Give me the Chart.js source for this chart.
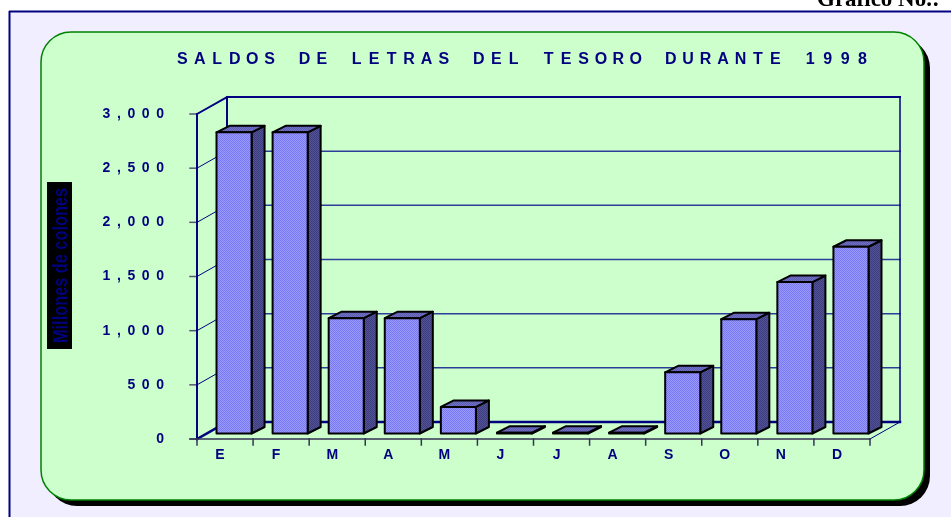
<!DOCTYPE html>
<html>
<head>
<meta charset="utf-8">
<script src="https://cdn.jsdelivr.net/npm/chart.js@4.4.1/dist/chart.umd.min.js"></script>
<style>
  html, body { margin: 0; padding: 0; background: #fff; overflow: hidden; }
  canvas { display: block; }
</style>
</head>
<body>
<canvas id="grafico" width="951" height="517"></canvas>
<script>
// ─── Datos del gráfico ─────────────────────────────────────────────
const meses  = ['E', 'F', 'M', 'A', 'M', 'J', 'J', 'A', 'S', 'O', 'N', 'D'];
const saldos = [2780, 2780, 1065, 1065, 245, 8, 8, 8, 565, 1055, 1398, 1724]; // millones de colones
const yTicks = [0, 500, 1000, 1500, 2000, 2500, 3000];
const titulo = 'SALDOS DE LETRAS DEL TESORO DURANTE 1998';
const tituloEje = 'Millones de colones';
const encabezado = 'Gráfico No.:';

// ─── Colores y geometría 3D ────────────────────────────────────────
const navy = '#000080';
const wallDx = 30, wallDy = -17;   // profundidad del "cuarto"
const barOx = 9, barOy = -5.5;     // la barra va metida en la profundidad
const barDx = 13, barDy = -6.5;    // grosor de la barra

function linea(ctx, x1, y1, x2, y2, color, w) {
  ctx.beginPath();
  ctx.moveTo(x1, y1);
  ctx.lineTo(x2, y2);
  ctx.strokeStyle = color;
  ctx.lineWidth = w;
  ctx.stroke();
}

function rectRedondo(ctx, x, y, w, h, r) {
  ctx.beginPath();
  ctx.moveTo(x + r, y);
  ctx.lineTo(x + w - r, y);
  ctx.arcTo(x + w, y, x + w, y + r, r);
  ctx.lineTo(x + w, y + h - r);
  ctx.arcTo(x + w, y + h, x + w - r, y + h, r);
  ctx.lineTo(x + r, y + h);
  ctx.arcTo(x, y + h, x, y + h - r, r);
  ctx.lineTo(x, y + r);
  ctx.arcTo(x, y, x + r, y, r);
  ctx.closePath();
}

function patron(ctx, c1, c2) {
  const p = document.createElement('canvas');
  p.width = 2; p.height = 2;
  const g = p.getContext('2d');
  g.fillStyle = c1; g.fillRect(0, 0, 2, 2);
  g.fillStyle = c2; g.fillRect(0, 0, 1, 1); g.fillRect(1, 1, 1, 1);
  return ctx.createPattern(p, 'repeat');
}

// texto con espaciado entre letras, alineado a la derecha en xDer
function textoEspaciado(ctx, txt, xDer, y, esp) {
  const chars = [...txt];
  const anchos = chars.map(c => ctx.measureText(c).width);
  const total = anchos.reduce((a, b) => a + b, 0) + esp * (chars.length - 1);
  let x = xDer - total;
  ctx.textAlign = 'left';
  chars.forEach((c, i) => { ctx.fillText(c, x, y); x += anchos[i] + esp; });
}

// ─── Fondo, marco, título ──────────────────────────────────────────
const fondoPlugin = {
  id: 'fondo',
  beforeDraw(chart) {
    const ctx = chart.ctx;
    ctx.save();
    ctx.fillStyle = '#ffffff';
    ctx.fillRect(0, 0, chart.width, chart.height);

    // recuadro lila exterior
    ctx.fillStyle = '#f1eeff';
    ctx.fillRect(9, 11, chart.width - 9, chart.height - 11);
    linea(ctx, 9, 11.5, chart.width, 11.5, navy, 2);
    linea(ctx, 9.5, 11, 9.5, chart.height, navy, 2);

    // encabezado cortado arriba
    ctx.fillStyle = '#000';
    ctx.font = 'bold 23px "Liberation Serif", "Times New Roman", serif';
    ctx.textAlign = 'left';
    ctx.textBaseline = 'alphabetic';
    ctx.fillText(encabezado, 817, 6);

    // panel verde con sombra
    rectRedondo(ctx, 47, 38, 883, 468, 30);
    ctx.fillStyle = '#000';
    ctx.fill();
    rectRedondo(ctx, 41, 32, 883, 468, 30);
    ctx.fillStyle = '#ccffcc';
    ctx.fill();
    ctx.strokeStyle = '#008000';
    ctx.lineWidth = 1.5;
    ctx.stroke();

    // título con letras espaciadas
    ctx.fillStyle = navy;
    ctx.font = 'bold 16px "Liberation Sans", Arial, sans-serif';
    ctx.textBaseline = 'middle';
    ctx.textAlign = 'center';
    const chars = [...titulo];
    const w0 = ctx.measureText(chars[0]).width;
    const wN = ctx.measureText(chars[chars.length - 1]).width;
    const c0 = 177 + w0 / 2, cN = 867 - wN / 2;
    const paso = (cN - c0) / (chars.length - 1);
    chars.forEach((c, i) => ctx.fillText(c, c0 + i * paso, 60));

    // título del eje Y
    ctx.fillStyle = '#000';
    ctx.fillRect(47, 182, 25, 167);
    ctx.translate(60, 265.5);
    ctx.rotate(-Math.PI / 2);
    ctx.fillStyle = navy;
    ctx.font = 'bold 21px "Liberation Sans Narrow", "Arial Narrow", "Liberation Sans", sans-serif';
    ctx.textAlign = 'center';
    ctx.textBaseline = 'middle';
    ctx.fillText(tituloEje, 0, 1, 155);
    ctx.restore();
  }
};

// ─── Paredes, piso, ejes ───────────────────────────────────────────
const paredesPlugin = {
  id: 'paredes',
  beforeDatasetsDraw(chart) {
    const ctx = chart.ctx;
    const { left, right, top, bottom } = chart.chartArea;
    const ys = chart.scales.y;
    const xs = chart.scales.x;
    ctx.save();
    ctx.lineCap = 'square';

    // líneas de división en la pared trasera y la pared izquierda
    yTicks.forEach(t => {
      const y = ys.getPixelForValue(t);
      if (t > 0 && t < 3000) {
        linea(ctx, left + wallDx, y + wallDy, right + wallDx, y + wallDy, '#2c3c98', 1.5);
        linea(ctx, left, y, left + wallDx, y + wallDy, navy, 1);
      }
      // marcas del eje
      linea(ctx, left - 7, y, left, y, '#555577', 1.5);
    });

    // marco de la pared trasera
    linea(ctx, left + wallDx, top + wallDy, right + wallDx, top + wallDy, navy, 2);
    linea(ctx, left + wallDx, top + wallDy, left + wallDx, bottom + wallDy, navy, 2);
    linea(ctx, right + wallDx, top + wallDy, right + wallDx, bottom + wallDy, navy, 1.5);
    linea(ctx, left, top, left + wallDx, top + wallDy, navy, 2);
    linea(ctx, left, top, left, bottom, navy, 2);

    // piso
    linea(ctx, left + wallDx, bottom + wallDy, right + wallDx, bottom + wallDy, navy, 2.5);
    linea(ctx, left, bottom, left + wallDx, bottom + wallDy, navy, 2.5);
    linea(ctx, right, bottom, right + wallDx, bottom + wallDy, navy, 1);
    linea(ctx, left - 7, bottom, right, bottom, '#333355', 1.5);

    // marcas de categorías
    const anchoCat = (right - left) / meses.length;
    for (let i = 0; i <= meses.length; i++) {
      const x = left + i * anchoCat;
      linea(ctx, x, bottom, x, bottom + 6, '#333355', 1.5);
    }

    // etiquetas del eje Y
    ctx.fillStyle = navy;
    ctx.font = 'bold 14px "Liberation Sans", Arial, sans-serif';
    ctx.textBaseline = 'middle';
    yTicks.forEach(t => {
      const y = ys.getPixelForValue(t);
      textoEspaciado(ctx, t.toLocaleString('en-US'), 164, y, 6.6);
    });

    // etiquetas del eje X
    ctx.textAlign = 'center';
    meses.forEach((m, i) => {
      ctx.fillText(m, xs.getPixelForValue(i) - 5, 455);
    });
    ctx.restore();
  }
};

// ─── Barras en 3D ──────────────────────────────────────────────────
const barras3dPlugin = {
  id: 'barras3d',
  afterDatasetsDraw(chart) {
    const ctx = chart.ctx;
    const frente = patron(ctx, '#9a9aff', '#7878f0');
    const lado = patron(ctx, '#525299', '#3e3e7e');
    const tapa = patron(ctx, '#7070c6', '#5c5cae');
    const meta = chart.getDatasetMeta(0);
    ctx.save();
    ctx.lineWidth = 2;
    ctx.lineJoin = 'round';
    ctx.strokeStyle = '#000';
    meta.data.forEach(el => {
      const p = el.getProps(['x', 'y', 'base', 'width'], true);
      const L = p.x - p.width / 2 + barOx;
      const R = p.x + p.width / 2 + barOx;
      const T = p.y + barOy;
      const B = p.base + barOy;

      // cara lateral
      ctx.beginPath();
      ctx.moveTo(R, B);
      ctx.lineTo(R + barDx, B + barDy);
      ctx.lineTo(R + barDx, T + barDy);
      ctx.lineTo(R, T);
      ctx.closePath();
      ctx.fillStyle = lado;
      ctx.fill();
      ctx.stroke();

      // tapa
      ctx.beginPath();
      ctx.moveTo(L, T);
      ctx.lineTo(L + barDx, T + barDy);
      ctx.lineTo(R + barDx, T + barDy);
      ctx.lineTo(R, T);
      ctx.closePath();
      ctx.fillStyle = tapa;
      ctx.fill();
      ctx.stroke();

      // frente
      ctx.beginPath();
      ctx.rect(L, T, R - L, B - T);
      ctx.fillStyle = frente;
      ctx.fill();
      ctx.stroke();
    });
    ctx.restore();
  }
};

// ─── Chart.js ──────────────────────────────────────────────────────
const ctx = document.getElementById('grafico').getContext('2d');
const grafico = new Chart(ctx, {
  type: 'bar',
  data: {
    labels: meses,
    datasets: [{
      label: 'Saldos',
      data: saldos,
      backgroundColor: 'rgba(0,0,0,0)',
      borderWidth: 0,
      barPercentage: 0.625,
      categoryPercentage: 1
    }]
  },
  options: {
    responsive: false,
    animation: false,
    events: [],
    layout: { padding: { left: 197, right: 81, top: 114, bottom: 78 } },
    scales: {
      x: { display: false, offset: true },
      y: { display: false, min: 0, max: 3000, ticks: { stepSize: 500 } }
    },
    plugins: {
      legend: { display: false },
      title: { display: false },
      tooltip: { enabled: false }
    }
  },
  plugins: [fondoPlugin, paredesPlugin, barras3dPlugin]
});
</script>
</body>
</html>
